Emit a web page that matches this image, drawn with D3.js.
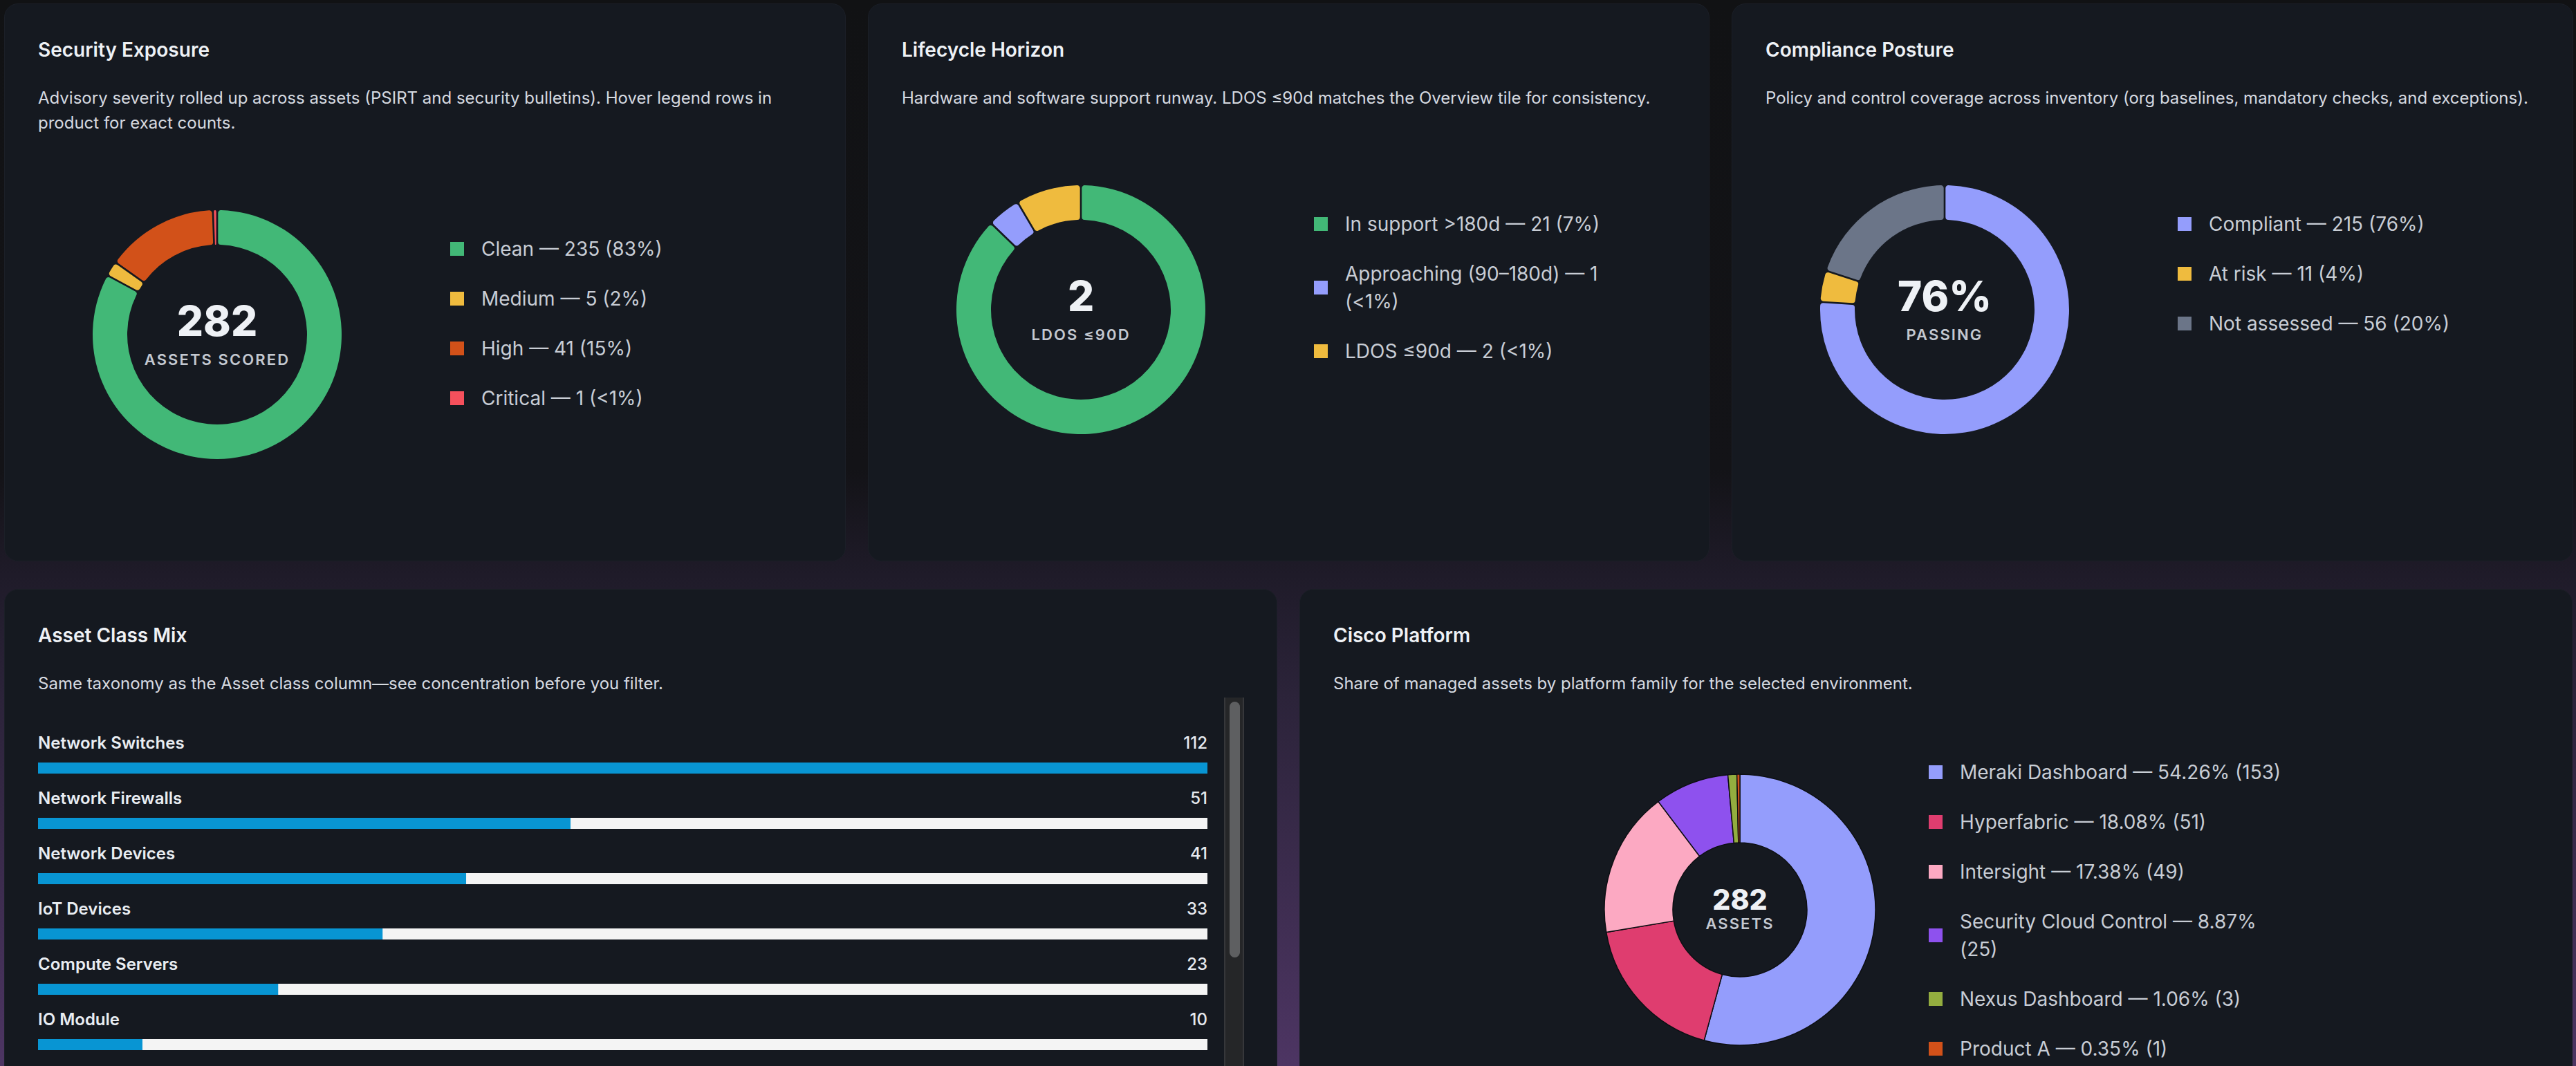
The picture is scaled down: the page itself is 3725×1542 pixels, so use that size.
<!DOCTYPE html>
<html>
<head>
<meta charset="utf-8">
<script src="https://cdn.jsdelivr.net/npm/d3@7"></script>
<style>
html, body { margin: 0; padding: 0; }
body {
    width: 3725px; height: 1542px; overflow: hidden; position: relative;
    font-family: Inter, "Noto Sans", sans-serif;
    background: linear-gradient(180deg, #111214 0%, #131317 44%, #1f1b29 54%, #2b2339 65%, #4d3563 100%);
}
.card { position: absolute; background: #151920; border-radius: 20px; box-sizing: border-box; border: 1px solid #1b1f27; overflow: hidden; }
.card svg { position: absolute; left: 0; top: 0; }
.title { position: absolute; left: 48px; top: 48px; font-size: 28px; font-weight: 600; line-height: 36px; color: #eef1f5; white-space: nowrap; }
.desc { position: absolute; left: 48px; top: 118px; font-size: 24px; line-height: 36px; color: #d6dae0; white-space: nowrap; }
.legend { position: absolute; }
.legend .row { display: flex; align-items: center; margin-bottom: 32px; }
.legend .sw { width: 20px; height: 20px; flex: none; }
.legend .txt { margin-left: 25px; font-size: 28px; line-height: 40px; color: #c8cdd5; }
.scroll-track { position: absolute; background: #252628; border-left: 2px solid #36373a; border-right: 2px solid #36373a; box-sizing: border-box; }
.scroll-thumb { position: absolute; background: #5e5f61; border-radius: 8px; }
</style>
</head>
<body>
<script>
// ---- data ----
const securityLabels = ["Clean", "Medium", "High", "Critical"];
const securityCounts = [235, 5, 41, 1];
const securityPct = ["83%", "2%", "15%", "<1%"];

const lifecycleLabels = ["In support >180d", "Approaching (90–180d)", "LDOS ≤90d"];
const lifecycleCounts = [21, 1, 2];
const lifecyclePct = ["7%", "<1%", "<1%"];

const complianceLabels = ["Compliant", "At risk", "Not assessed"];
const complianceCounts = [215, 11, 56];
const compliancePct = ["76%", "4%", "20%"];

const assetClasses = ["Network Switches", "Network Firewalls", "Network Devices", "IoT Devices", "Compute Servers", "IO Module"];
const assetClassCounts = [112, 51, 41, 33, 23, 10];

const platformNames = ["Meraki Dashboard", "Hyperfabric", "Intersight", "Security Cloud Control", "Nexus Dashboard", "Product A"];
const platformCounts = [153, 51, 49, 25, 3, 1];
const platformShares = ["54.26%", "18.08%", "17.38%", "8.87%", "1.06%", "0.35%"];

// ---- palette ----
const green = "#42b877", yellow = "#efbb3e", orange = "#d25119", red = "#f6505c",
      lavender = "#949dfc", slate = "#6b7588";
const securityColors = [green, yellow, orange, red];
const lifecycleColors = [green, lavender, yellow];
const complianceColors = [lavender, yellow, slate];
const platformColors = [lavender, "#df3d6f", "#fca9c2", "#8e51ee", "#93ad3f", orange];

function makeCard(x, y, w, h, title, descLines) {
    const card = d3.select("body").append("div")
        .attr("class", "card")
        .style("left", x + "px").style("top", y + "px")
        .style("width", w + "px").style("height", h + "px");
    card.append("div").attr("class", "title").text(title);
    const desc = card.append("div").attr("class", "desc");
    descLines.forEach((l, i) => {
        if (i) desc.append("br");
        desc.append("span").text(l);
    });
    const svg = card.append("svg").attr("width", w).attr("height", h);
    return { card, svg };
}

function donut(svg, o) {
    const g = svg.append("g").attr("transform", `translate(${o.cx},${o.cy})`);
    const pie = d3.pie().sort(null).value(d => d).padAngle(o.pad || 0);
    const arc = d3.arc().innerRadius(o.r).outerRadius(o.R).cornerRadius(o.corner || 0);
    g.selectAll("path")
        .data(pie(o.values))
        .enter()
        .append("path")
        .attr("d", arc)
        .attr("fill", (d, i) => o.colors[i])
        .attr("stroke", o.stroke || "none")
        .attr("stroke-width", o.strokeWidth || 0);

    g.append("text")
        .attr("text-anchor", "middle")
        .attr("y", o.bigDy)
        .attr("font-size", o.bigSize + "px")
        .attr("font-weight", 800)
        .attr("fill", "#eef1f5")
        .text(o.big);
    g.append("text")
        .attr("text-anchor", "middle")
        .attr("y", o.smallDy)
        .attr("font-size", "22px")
        .attr("font-weight", 600)
        .attr("letter-spacing", "2.1px")
        .attr("fill", "#c3c8d0")
        .text(o.small);
}

function legend(card, x, y, maxW, texts, colors) {
    const lg = card.append("div").attr("class", "legend")
        .style("left", x + "px").style("top", y + "px");
    const rows = lg.selectAll(".row").data(texts).enter()
        .append("div").attr("class", "row");
    rows.append("div").attr("class", "sw").style("background", (d, i) => colors[i]);
    rows.append("div").attr("class", "txt").style("max-width", maxW + "px").text(d => d);
}

// ---- top row donuts ----
const topCards = [
    { x: 6, title: "Security Exposure",
      desc: ["Advisory severity rolled up across assets (PSIRT and security bulletins). Hover legend rows in", "product for exact counts."],
      labels: securityLabels, values: securityCounts, pct: securityPct, colors: securityColors,
      big: String(d3.sum(securityCounts)), small: "ASSETS SCORED" },
    { x: 1255, title: "Lifecycle Horizon",
      desc: ["Hardware and software support runway. LDOS ≤90d matches the Overview tile for consistency."],
      labels: lifecycleLabels, values: lifecycleCounts, pct: lifecyclePct, colors: lifecycleColors,
      big: String(lifecycleCounts[2]), small: "LDOS ≤90D" },
    { x: 2504, title: "Compliance Posture",
      desc: ["Policy and control coverage across inventory (org baselines, mandatory checks, and exceptions)."],
      labels: complianceLabels, values: complianceCounts, pct: compliancePct, colors: complianceColors,
      big: compliancePct[0], small: "PASSING" }
];

topCards.forEach(c => {
    const { card, svg } = makeCard(c.x, 5, 1217, 807, c.title, c.desc);
    const donutTop = 118 + c.desc.length * 36 + 108;
    donut(svg, {
        cx: 307, cy: donutTop + 180, R: 180, r: 130, pad: 0.012, corner: 4,
        values: c.values, colors: c.colors,
        big: c.big, bigSize: 60, bigDy: 2, small: c.small, smallDy: 44
    });
    legend(card, 644, donutTop + 36, 410,
        c.labels.map((l, i) => `${l} — ${c.values[i]} (${c.pct[i]})`), c.colors);
});

// ---- asset class mix ----
{
    const { card, svg } = makeCard(6, 852, 1841, 760, "Asset Class Mix",
        ["Same taxonomy as the Asset class column—see concentration before you filter."]);
    const barW = 1691;
    const x = d3.scaleLinear().domain([0, d3.max(assetClassCounts)]).range([0, barW]);
    const y = d3.scaleBand().domain(assetClasses).range([193, 193 + 80 * assetClasses.length]);
    const rows = svg.append("g").attr("transform", "translate(48,0)")
        .selectAll("g").data(assetClasses).enter()
        .append("g").attr("transform", d => `translate(0,${y(d)})`);
    rows.append("text")
        .attr("y", 28).attr("dominant-baseline", "central")
        .attr("font-size", "24px").attr("font-weight", 600).attr("fill", "#e9edf2")
        .text(d => d);
    rows.append("text")
        .attr("x", barW).attr("y", 28).attr("dominant-baseline", "central")
        .attr("text-anchor", "end")
        .attr("font-size", "24px").attr("font-weight", 500).attr("fill", "#e6e9ee")
        .text((d, i) => assetClassCounts[i]);
    rows.append("rect")
        .attr("y", 57).attr("width", barW).attr("height", 16).attr("fill", "#f4f4f4");
    rows.append("rect")
        .attr("y", 57).attr("width", (d, i) => x(assetClassCounts[i])).attr("height", 16).attr("fill", "#0895d3");

    card.append("div").attr("class", "scroll-track")
        .style("left", "1763px").style("top", "156px").style("width", "29px").style("height", "620px");
    card.append("div").attr("class", "scroll-thumb")
        .style("left", "1771px").style("top", "162px").style("width", "15px").style("height", "370px");
}

// ---- cisco platform ----
{
    const { card, svg } = makeCard(1879, 852, 1841, 760, "Cisco Platform",
        ["Share of managed assets by platform family for the selected environment."]);
    donut(svg, {
        cx: 636, cy: 463, R: 196, r: 97,
        stroke: "#0d0f13", strokeWidth: 1.5,
        values: platformCounts, colors: platformColors,
        big: String(d3.sum(platformCounts)), bigSize: 41, bigDy: 0, small: "ASSETS", smallDy: 28
    });
    legend(card, 909, 244, 470,
        platformNames.map((n, i) => `${n} — ${platformShares[i]} (${platformCounts[i]})`), platformColors);
}
</script>
</body>
</html>
